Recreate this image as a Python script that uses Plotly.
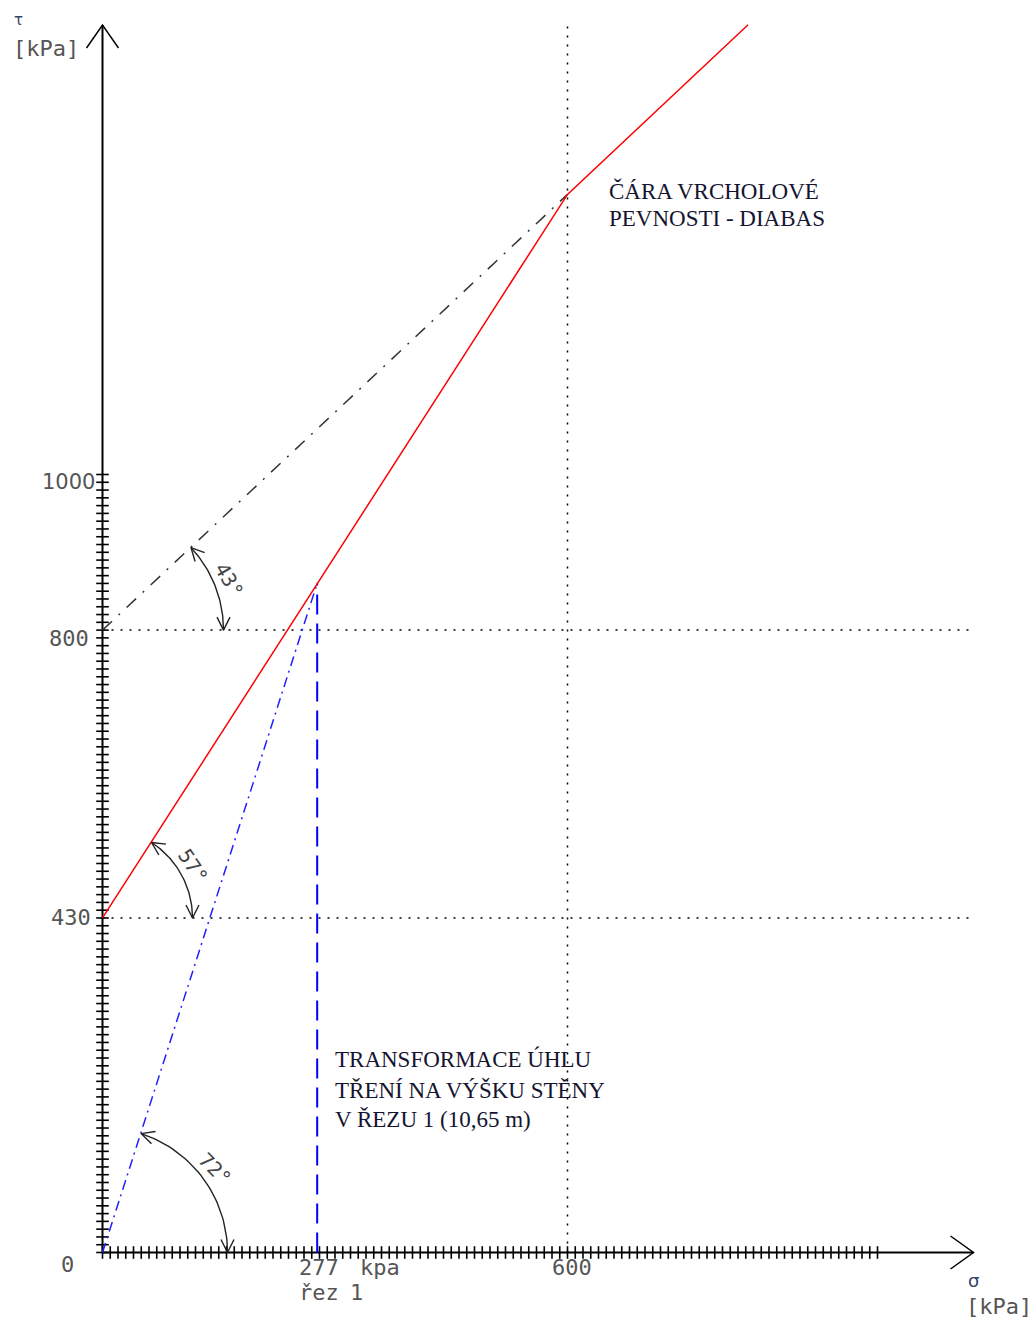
import math
import plotly.graph_objects as go

# ---------------- data ----------------
red_sigma = [0, 600, 833]
red_tau = [430, 1360, 1578]
black_sigma = [0, 600]
black_tau = [800, 1360]
blue_sigma = [0, 277]
blue_tau = [0, 860]
rez_sigma = 277
rez_tau = 860
h_levels = [430, 800]
v_level = 600
tick_values = list(range(0, 1001, 10))
angle_values = [43, 57, 72]
angle_centers_tau = [800, 430, 0]

# ---------------- pixel mapping (layout) ----------------
W, H = 1034, 1318
OX, OY = 102.5, 1252.5
SX, SY = 0.775, 0.778


def d(px, py):
    return (px - OX) / SX, (OY - py) / SY


def p(x, y):
    return OX + x * SX, OY - y * SY


xr = [d(0, 0)[0], d(W, 0)[0]]
yr = [d(0, H)[1], d(0, 0)[1]]

fig = go.Figure()


def seg(xs, ys, color="black", width=1.5, dash="solid"):
    fig.add_trace(go.Scatter(x=xs, y=ys, mode="lines", hoverinfo="skip",
                             line=dict(color=color, width=width, dash=dash),
                             showlegend=False))


# dotted reference lines
x_end = d(975, 0)[0]
for lv in h_levels:
    seg([0, x_end], [lv, lv], "black", 1.5, "2px,7px")
seg([v_level, v_level], [0, d(0, 20)[1]], "black", 1.5, "2px,7px")

# axes
y_tip = d(0, 25)[1]
x_tip = d(973.5, 0)[0]
seg([0, 0], [0, y_tip], "black", 2)
seg([0, x_tip], [0, 0], "black", 2)
# axis arrow heads (open V)
tx, ty = p(0, y_tip)
a1 = d(tx - 16, ty + 23); a2 = d(tx + 16, ty + 23)
seg([a1[0], 0, a2[0]], [a1[1], y_tip, a2[1]], "black", 1.5)
tx, ty = p(x_tip, 0)
a1 = d(tx - 23, ty - 16.5); a2 = d(tx - 23, ty + 16.5)
seg([a1[0], x_tip, a2[0]], [a1[1], 0, a2[1]], "black", 1.5)

# tick marks crossing the axes
fig.add_trace(go.Scatter(x=tick_values, y=[0] * len(tick_values), mode="markers",
                         hoverinfo="skip", showlegend=False,
                         marker=dict(symbol="line-ns", size=9,
                                     line=dict(color="black", width=1.6))))
fig.add_trace(go.Scatter(x=[0] * len(tick_values), y=tick_values, mode="markers",
                         hoverinfo="skip", showlegend=False,
                         marker=dict(symbol="line-ew", size=9,
                                     line=dict(color="black", width=1.6))))

# strength lines
seg(black_sigma, black_tau, "#333333", 1.5, "13px,9px,2px,9px")
seg(blue_sigma, blue_tau, "#2020ff", 1.5, "10px,5px,2px,5px")
seg([rez_sigma, rez_sigma], [0, rez_tau], "#0000ff", 2, "20px,9px")
seg(red_sigma, red_tau, "#ff0000", 1.5)

# angle arcs with open arrow heads
arc_radii = [121, 90, 125]
for ang, ctau, r in zip(angle_values, angle_centers_tau, arc_radii):
    cx, cy = p(0, ctau)
    A = math.radians(ang)
    n = 40
    xs, ys = [], []
    for i in range(n + 1):
        t = A * i / n
        dx, dy = d(cx + r * math.cos(t), cy - r * math.sin(t))
        xs.append(dx); ys.append(dy)
    seg(xs, ys, "#222222", 1.4)
    L, Wd = 13, 6.5
    for t, sgn in ((A, 1), (0.0, -1)):
        tipx, tipy = cx + r * math.cos(t), cy - r * math.sin(t)
        ux, uy = -math.sin(t) * sgn, -math.cos(t) * sgn
        nx, ny = -uy, ux
        b1 = d(tipx - L * ux + Wd * nx, tipy - L * uy + Wd * ny)
        b2 = d(tipx - L * ux - Wd * nx, tipy - L * uy - Wd * ny)
        tp = d(tipx, tipy)
        seg([b1[0], tp[0], b2[0]], [b1[1], tp[1], b2[1]], "#222222", 1.4)

# ---------------- texts ----------------
lab_font = dict(family="DejaVu Sans Mono", size=22, color="#555555")
ann = []
# y tick labels
ann.append(dict(x=0, y=0, text="0", xanchor="right", yanchor="middle",
                xshift=-27, yshift=-12, font=lab_font))
ann.append(dict(x=0, y=430, text="430", xanchor="right", yanchor="middle",
                xshift=-10, yshift=0, font=lab_font))
ann.append(dict(x=0, y=800, text="800", xanchor="right", yanchor="middle",
                xshift=-12, yshift=-8, font=lab_font))
ann.append(dict(x=0, y=1000, text="1000", xanchor="right", yanchor="middle",
                xshift=-6, yshift=-7, font=dict(family="DejaVu Sans", size=21, color="#555555")))
# x labels
ann.append(dict(x=v_level, y=0, text="600", xanchor="center", yanchor="middle",
                xshift=4, yshift=-15, font=lab_font))
ann.append(dict(x=rez_sigma, y=0, text="277", xanchor="left", yanchor="middle",
                xshift=-20, yshift=-15, font=lab_font))
ann.append(dict(x=rez_sigma, y=0, text="kpa", xanchor="left", yanchor="middle",
                xshift=41, yshift=-15, font=lab_font))
ann.append(dict(x=rez_sigma, y=0, text="řez", xanchor="left", yanchor="middle",
                xshift=-20, yshift=-40, font=lab_font))
ann.append(dict(x=rez_sigma, y=0, text="1", xanchor="left", yanchor="middle",
                xshift=31, yshift=-40, font=lab_font))
# axis titles
tx, ty = d(18, 20)
ann.append(dict(x=tx, y=ty, text="τ", xanchor="center", yanchor="middle",
                font=dict(family="DejaVu Sans", size=15, color="#334466")))
tx, ty = d(11, 48)
ann.append(dict(x=tx, y=ty, text="[kPa]", xanchor="left", yanchor="middle", font=lab_font))
tx, ty = d(973, 1280)
ann.append(dict(x=tx, y=ty, text="σ", xanchor="center", yanchor="middle",
                font=dict(family="DejaVu Sans", size=18, color="#334466")))
tx, ty = d(964, 1306)
ann.append(dict(x=tx, y=ty, text="[kPa]", xanchor="left", yanchor="middle", font=lab_font))

# angle labels
ang_font = dict(family="DejaVu Sans Mono", size=20, color="#444444")
for txt, (cx, cy, rot) in zip(["43°", "57°", "72°"],
                              [(229, 580, 60), (193, 866, 56), (215, 1169, 45)]):
    tx, ty = d(cx, cy)
    ann.append(dict(x=tx, y=ty, text=txt, textangle=rot, xanchor="center",
                    yanchor="middle", font=ang_font))

# serif notes
serif = dict(family="Liberation Serif", size=23, color="#141430")
for txt, (lx, ly) in zip(["ČÁRA VRCHOLOVÉ", "PEVNOSTI - DIABAS"],
                         [(607, 191), (607, 218)]):
    tx, ty = d(lx, ly)
    ann.append(dict(x=tx, y=ty, text=txt, xanchor="left", yanchor="middle", font=serif))
for txt, (lx, ly) in zip(["TRANSFORMACE ÚHLU", "TŘENÍ NA VÝŠKU STĚNY", "V ŘEZU 1 (10,65 m)"],
                         [(333, 1059), (333, 1090), (333, 1119)]):
    tx, ty = d(lx, ly)
    ann.append(dict(x=tx, y=ty, text=txt, xanchor="left", yanchor="middle", font=serif))

for a in ann:
    a.update(showarrow=False, xref="x", yref="y")

fig.update_layout(
    width=W, height=H, autosize=False,
    margin=dict(l=0, r=0, t=0, b=0, pad=0),
    paper_bgcolor="white", plot_bgcolor="white",
    xaxis=dict(range=xr, visible=False, fixedrange=True),
    yaxis=dict(range=yr, visible=False, fixedrange=True),
    annotations=ann,
    showlegend=False,
)

fig.write_html("out.html")
